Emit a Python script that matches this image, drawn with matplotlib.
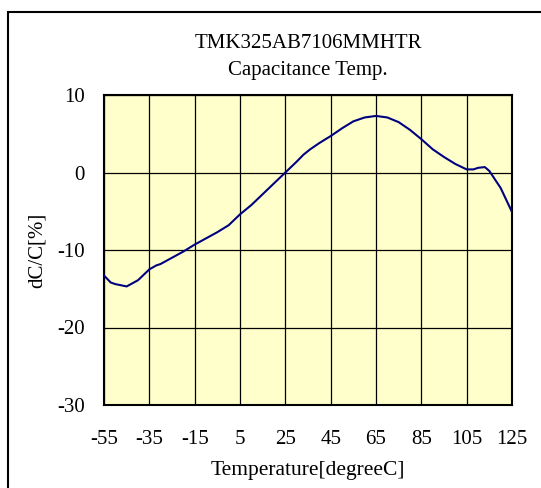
import matplotlib
matplotlib.use("Agg")
import matplotlib.pyplot as plt
from matplotlib.patches import Rectangle

temps = [-55, -52, -50, -45, -40, -35, -32, -30, -25, -20, -15, -10, -5, 0, 5, 10,
         15, 20, 25, 30, 33, 36, 40, 45, 50, 55, 60, 65, 70, 75, 80, 85, 90, 95,
         100, 105, 108, 110, 113, 115, 120, 125]
dcc = [-13.3, -14.2, -14.4, -14.7, -13.9, -12.5, -12.0, -11.8, -11.0, -10.2, -9.3,
       -8.5, -7.7, -6.8, -5.4, -4.2, -2.8, -1.4, 0.0, 1.4, 2.3, 3.0, 3.8, 4.7, 5.7,
       6.6, 7.1, 7.3, 7.1, 6.5, 5.5, 4.3, 3.0, 2.0, 1.1, 0.4, 0.4, 0.6, 0.7, 0.2,
       -2.0, -5.1]
xticks = [-55, -35, -15, 5, 25, 45, 65, 85, 105, 125]
yticks = [-30, -20, -10, 0, 10]
title_lines = ["TMK325AB7106MMHTR", "Capacitance Temp."]
xlabel = "Temperature[degreeC]"
ylabel = "dC/C[%]"

plt.rcParams['font.family'] = ['Liberation Serif', 'DejaVu Serif']

W, H = 541, 488
fig = plt.figure(figsize=(W / 100, H / 100), dpi=100)
fig.patch.set_facecolor('white')

# outer frame (cropped at right and bottom)
fig.patches.append(Rectangle((8 / W, -0.1), 1.2, 1 - 12 / H + 0.1,
                             transform=fig.transFigure, fill=False,
                             edgecolor='black', linewidth=1.5, zorder=0))

l, r, t, b = 104, 512, 95, 405
ax = fig.add_axes([l / W, 1 - b / H, (r - l) / W, (b - t) / H])
ax.set_facecolor('#FFFFCC')
ax.set_xlim(-55, 125)
ax.set_ylim(-30, 10)
ax.set_xticks(xticks)
ax.set_yticks(yticks)
ax.set_xticklabels([str(v) for v in xticks], fontsize=15)
ax.set_yticklabels([str(v) for v in yticks], fontsize=15)
ax.tick_params(axis='x', length=0, pad=18)
ax.tick_params(axis='y', length=0, pad=14)
ax.grid(True, color='black', linewidth=0.9)
for s in ax.spines.values():
    s.set_linewidth(1.5)
    s.set_color('black')

ax.plot(temps, dcc, color='#000080', linewidth=1.5, zorder=3)

ax.set_xlabel(xlabel, fontsize=15.5, labelpad=9)
ax.set_ylabel(ylabel, fontsize=15, labelpad=7)

fig.text(308 / W, 1 - 43 / H, title_lines[0], ha='center', va='center', fontsize=15)
fig.text(308 / W, 1 - 71 / H, title_lines[1], ha='center', va='center', fontsize=15)

fig.savefig('out.png', dpi=100)
